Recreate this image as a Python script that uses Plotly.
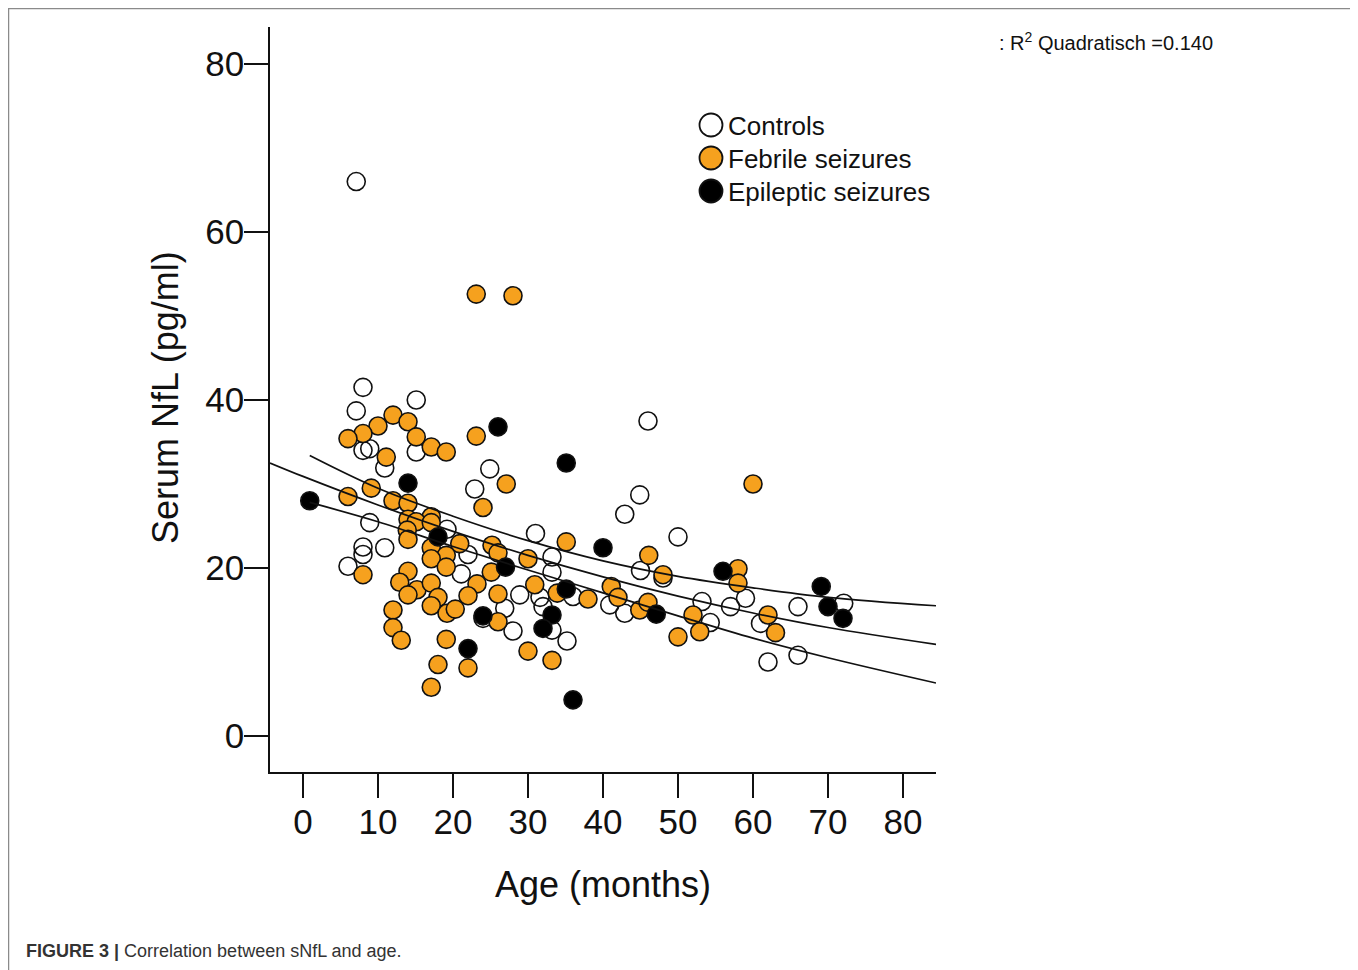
import plotly.graph_objects as go

# ---------------- data ----------------
ctrl_age = [7.1, 8.0, 7.1, 15.1, 8.0, 8.9, 15.1, 10.9, 8.9, 8.0,
            8.0, 10.9, 6.0, 19.2, 22.0, 21.1, 22.9, 24.9, 24.0, 26.9,
            28.0, 28.9, 31.0, 31.6, 32.0, 33.2, 33.2, 33.2, 35.2, 36.0,
            40.9, 42.9, 42.9, 44.9, 46.0, 45.0, 48.0, 50.0, 53.2, 54.3,
            57.0, 59.0, 61.0, 62.0, 66.0, 66.0, 72.1]
ctrl_nfl = [66.0, 41.5, 38.7, 40.0, 34.0, 34.2, 33.8, 31.9, 25.4, 22.5,
            21.6, 22.4, 20.2, 24.6, 21.6, 19.3, 29.4, 31.8, 14.0, 15.2,
            12.5, 16.8, 24.1, 16.5, 15.4, 21.3, 19.5, 12.6, 11.3, 16.6,
            15.6, 14.6, 26.4, 28.7, 37.5, 19.7, 18.8, 23.7, 16.0, 13.5,
            15.4, 16.4, 13.4, 8.8, 15.4, 9.6, 15.8]

feb_age = [23.1, 28.0, 12.0, 14.0, 10.0, 8.0, 6.0, 15.1, 17.1, 19.1,
           23.1, 11.1, 27.1, 24.0, 6.0, 9.1, 12.0, 14.0, 17.1, 14.0,
           15.1, 17.1, 13.9, 14.0, 20.9, 25.2, 26.0, 17.1, 19.1, 17.1,
           19.1, 8.0, 25.1, 14.0, 12.9, 15.2, 17.1, 14.0, 23.2, 22.0,
           26.0, 18.0, 17.1, 19.2, 20.3, 12.0, 26.0, 12.0, 13.1, 19.1,
           18.0, 22.0, 17.1, 30.0, 30.9, 33.9, 35.1, 38.0, 41.1, 42.0,
           44.9, 46.0, 46.1, 48.0, 50.0, 52.0, 52.9, 58.0, 58.0, 60.0,
           62.0, 63.0, 30.0, 33.2]
feb_nfl = [52.6, 52.4, 38.2, 37.4, 36.9, 36.0, 35.4, 35.6, 34.4, 33.8,
           35.7, 33.2, 30.0, 27.2, 28.5, 29.5, 28.0, 27.7, 26.1, 25.8,
           25.5, 25.4, 24.5, 23.4, 22.9, 22.7, 21.8, 22.4, 21.5, 21.1,
           20.1, 19.2, 19.5, 19.6, 18.3, 17.4, 18.2, 16.8, 18.1, 16.7,
           16.9, 16.5, 15.5, 14.6, 15.1, 15.0, 13.6, 12.9, 11.4, 11.5,
           8.5, 8.1, 5.8, 21.1, 18.0, 17.0, 23.1, 16.3, 17.8, 16.5,
           15.0, 15.9, 21.5, 19.2, 11.8, 14.4, 12.4, 19.9, 18.2, 30.0,
           14.4, 12.3, 10.1, 9.0]

epi_age = [0.9, 14.0, 18.0, 26.0, 35.1, 40.0, 27.0, 35.1, 24.0, 33.2,
           32.0, 22.0, 36.0, 56.0, 47.1, 69.1, 70.0, 72.0]
epi_nfl = [28.0, 30.1, 23.7, 36.8, 32.5, 22.4, 20.1, 17.5, 14.3, 14.4,
           12.8, 10.4, 4.3, 19.6, 14.5, 17.8, 15.4, 14.0]

# quadratic fit and its confidence band
fit_age = [-4.4, 0, 10, 20, 30, 40, 50, 60, 70, 84.4]
fit_nfl = [32.5, 30.9, 27.5, 24.36, 21.5, 18.94, 16.65, 14.64, 12.91, 10.9]
ci_age = [0.9, 10, 20, 30, 40, 50, 60, 70, 84.4]
ci_upper = [33.4, 29.5, 26.16, 23.25, 20.84, 19.0, 17.64, 16.51, 15.5]
ci_lower = [27.8, 25.5, 22.56, 19.75, 17.04, 14.3, 11.64, 9.31, 6.3]

x_ticks = [0, 10, 20, 30, 40, 50, 60, 70, 80]
y_ticks = [0, 20, 40, 60, 80]

legend_labels = ["Controls", "Febrile seizures", "Epileptic seizures"]
r2_text = ": R<sup>2</sup> Quadratisch =0.140"
caption_bold = "FIGURE 3 |"
caption_text = " Correlation between sNfL and age."

# ---------------- styling ----------------
OFF = 8  # page body margin of the browser
W, H = 1358 - OFF, 970 - OFF
L, R, T, B = 270 - OFF, 936 - OFF, 27 - OFF, 772 - OFF  # plot area in figure pixels
ORANGE = "#F6A11E"
EDGE = "#111111"
FONT = "Liberation Sans, Arial, sans-serif"


def px_x(px):
    """page pixel -> paper coordinate"""
    return (px - OFF - L) / (R - L)


def px_y(py):
    return (B - (py - OFF)) / (B - T)


fig = go.Figure()

mk = dict(symbol="circle", size=18, line=dict(color=EDGE, width=1.6))
fig.add_trace(go.Scatter(x=ctrl_age, y=ctrl_nfl, mode="markers",
                         marker=dict(mk, color="rgba(255,255,255,0)"),
                         name=legend_labels[0], showlegend=False))
fig.add_trace(go.Scatter(x=feb_age, y=feb_nfl, mode="markers",
                         marker=dict(mk, color=ORANGE),
                         name=legend_labels[1], showlegend=False))
fig.add_trace(go.Scatter(x=epi_age, y=epi_nfl, mode="markers",
                         marker=dict(mk, color="#000000"),
                         name=legend_labels[2], showlegend=False))

ln = dict(color=EDGE, width=1.7, shape="spline")
fig.add_trace(go.Scatter(x=fit_age, y=fit_nfl, mode="lines", line=ln, showlegend=False))
fig.add_trace(go.Scatter(x=ci_age, y=ci_upper, mode="lines", line=ln, showlegend=False))
fig.add_trace(go.Scatter(x=ci_age, y=ci_lower, mode="lines", line=ln, showlegend=False))

axis_common = dict(showgrid=False, zeroline=False, showline=True,
                   linecolor="#111111", linewidth=1.6, ticks="outside",
                   ticklen=24, tickwidth=1.8, tickcolor="#111111",
                   tickfont=dict(family=FONT, size=35, color="#111111"),
                   mirror=False)

fig.update_layout(
    width=W, height=H,
    margin=dict(l=L, r=W - R, t=T, b=H - B, pad=0),
    paper_bgcolor="white", plot_bgcolor="white",
    xaxis=dict(axis_common, range=[-4.4, 84.4], tickvals=x_ticks,
               ticktext=[str(v) for v in x_ticks], ticklabelstandoff=-6),
    yaxis=dict(axis_common, range=[-4.29, 84.4], tickvals=y_ticks,
               ticktext=[str(v) for v in y_ticks], ticklabelstandoff=-7),
    showlegend=False,
)

shapes = []
# outer frame
shapes.append(dict(type="rect", xref="paper", yref="paper",
                   x0=px_x(8.5), x1=px_x(1355), y0=px_y(990), y1=px_y(8.5),
                   line=dict(color="#8a8a8a", width=1.5), fillcolor="rgba(0,0,0,0)",
                   layer="below"))
# legend symbols
leg_y = [125, 158, 191]
leg_fill = ["white", ORANGE, "#000000"]
for yy, fc in zip(leg_y, leg_fill):
    shapes.append(dict(type="circle", xref="paper", yref="paper",
                       xsizemode="pixel", ysizemode="pixel",
                       xanchor=px_x(711), yanchor=px_y(yy),
                       x0=-11.5, x1=11.5, y0=-11.5, y1=11.5,
                       line=dict(color=EDGE, width=1.8), fillcolor=fc))
fig.update_layout(shapes=shapes)

ann = []
for yy, lab in zip(leg_y, legend_labels):
    ann.append(dict(text=lab, xref="paper", yref="paper", x=px_x(726), y=px_y(yy + 1),
                    xanchor="left", yanchor="middle", showarrow=False,
                    font=dict(family=FONT, size=26, color="#111111")))
ann.append(dict(text="Age (months)", xref="paper", yref="paper",
                x=px_x(603), y=px_y(884), xanchor="center", yanchor="middle",
                showarrow=False, font=dict(family=FONT, size=36, color="#111111")))
ann.append(dict(text="Serum NfL (pg/ml)", xref="paper", yref="paper",
                x=px_x(165), y=px_y(398), xanchor="center", yanchor="middle",
                textangle=-90, showarrow=False,
                font=dict(family=FONT, size=36, color="#111111")))
ann.append(dict(text=r2_text, xref="paper", yref="paper",
                x=px_x(997), y=px_y(42), xanchor="left", yanchor="middle",
                showarrow=False, font=dict(family=FONT, size=20, color="#111111")))
ann.append(dict(text="<b>" + caption_bold + "</b>" + caption_text,
                xref="paper", yref="paper", x=px_x(24), y=px_y(951),
                xanchor="left", yanchor="middle", showarrow=False,
                font=dict(family=FONT, size=18, color="#333333")))
fig.update_layout(annotations=ann)

fig.write_html("out.html")
